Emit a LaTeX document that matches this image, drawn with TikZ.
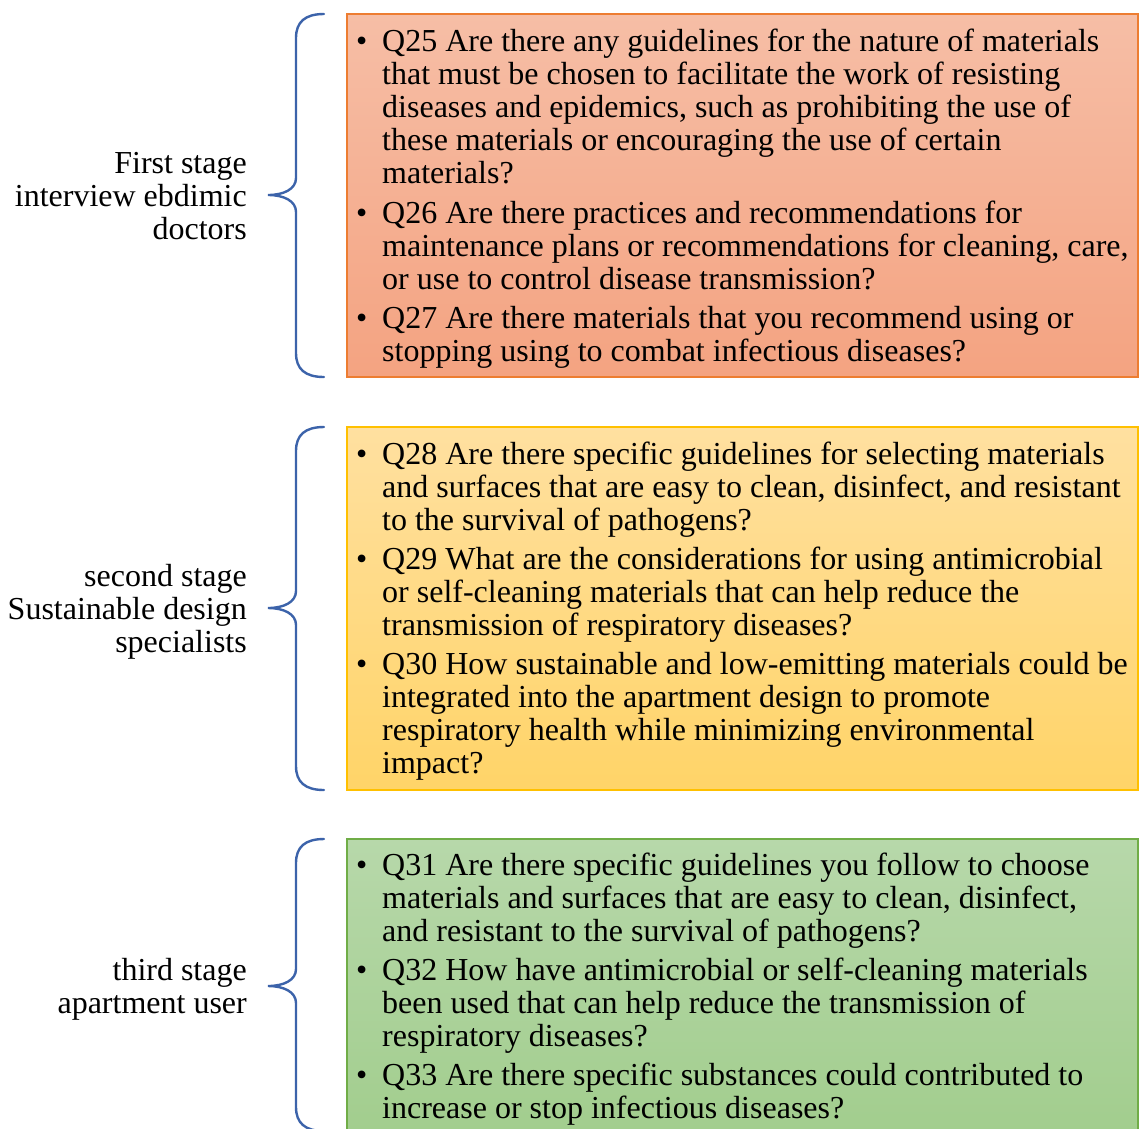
\documentclass[tikz,border=0pt]{standalone}
\usepackage{fontspec}
\setmainfont{Liberation Serif}
% multi-line text whose reference point is the first baseline
\newcommand{\linesL}[1]{\begin{tabular}[t]{@{}l@{}}#1\end{tabular}}
\newcommand{\linesR}[1]{\begin{tabular}[t]{@{}r@{}}#1\end{tabular}}
\begin{document}
\begin{tikzpicture}[x=1pt,y=-1pt,
  txt/.style={inner sep=0pt, anchor=base west,
    font=\fontsize{32}{33.2}\selectfont},
  bul/.style={inner sep=0pt, anchor=base west,
    font=\fontsize{32}{33.2}\selectfont},
  lbl/.style={inner sep=0pt, anchor=base east,
    font=\fontsize{32}{33}\selectfont},
  brace/.style={draw=braceblue, line width=2.4pt, line cap=round},
  qbox/.style={line width=1.3pt}]
\definecolor{braceblue}{RGB}{60,99,170}
\definecolor{oA}{RGB}{246,190,166}\definecolor{oB}{RGB}{244,163,129}\definecolor{oL}{RGB}{237,125,49}
\definecolor{yA}{RGB}{255,224,160}\definecolor{yB}{RGB}{255,212,104}\definecolor{yL}{RGB}{255,192,0}
\definecolor{gA}{RGB}{183,216,170}\definecolor{gB}{RGB}{157,203,135}\definecolor{gL}{RGB}{112,173,71}
\useasboundingbox (0,0) rectangle (1139,1128);
\clip (0,0) rectangle (1139,1128);

% question boxes
\draw[qbox, draw=oL, top color=oA, bottom color=oB] (347,14) rectangle (1138,377);
\draw[qbox, draw=yL, top color=yA, bottom color=yB] (347,427) rectangle (1138,790);
\draw[qbox, draw=gL, top color=gA, bottom color=gB] (347,839) rectangle (1138,1202);

% braces
\newcommand{\stagebrace}[3]{%
  \draw[brace] (324,#1) .. controls (305,#1) and (296,#1+8) .. (296,#1+24)
    -- (296,#2-17) .. controls (296,#2-6) and (284,#2) .. (268,#2)
    .. controls (284,#2) and (296,#2+6) .. (296,#2+17)
    -- (296,#3-24) .. controls (296,#3-8) and (305,#3) .. (324,#3);}
\stagebrace{14}{195}{377}
\stagebrace{427}{608}{790}
\stagebrace{839}{986}{1131}

% stage labels
\node[lbl] (s1) at (247,173) {\linesR{First stage\\interview ebdimic\\doctors}};
\node[lbl] (s2) at (247,586) {\linesR{second stage\\Sustainable design\\specialists}};
\node[lbl] (s3) at (247,980) {\linesR{third stage\\apartment user}};

% first stage questions
\node[bul] (b25) at (356,51) {•};
\node[txt] (q25) at (382,51) {\linesL{Q25 Are there any guidelines for the nature of materials\\that must be chosen to facilitate the work of resisting\\diseases and epidemics, such as prohibiting the use of\\these materials or encouraging the use of certain\\materials?}};
\node[bul] (b26) at (356,223) {•};
\node[txt] (q26) at (382,223) {\linesL{Q26 Are there practices and recommendations for\\maintenance plans or recommendations for cleaning, care,\\or use to control disease transmission?}};
\node[bul] (b27) at (356,328) {•};
\node[txt] (q27) at (382,328) {\linesL{Q27 Are there materials that you recommend using or\\stopping using to combat infectious diseases?}};

% second stage questions
\node[bul] (b28) at (356,464) {•};
\node[txt] (q28) at (382,464) {\linesL{Q28 Are there specific guidelines for selecting materials\\and surfaces that are easy to clean, disinfect, and resistant\\to the survival of pathogens?}};
\node[bul] (b29) at (356,569) {•};
\node[txt] (q29) at (382,569) {\linesL{Q29 What are the considerations for using antimicrobial\\or self-cleaning materials that can help reduce the\\transmission of respiratory diseases?}};
\node[bul] (b30) at (356,674) {•};
\node[txt] (q30) at (382,674) {\linesL{Q30 How sustainable and low-emitting materials could be\\integrated into the apartment design to promote\\respiratory health while minimizing environmental\\impact?}};

% third stage questions
\node[bul] (b31) at (356,875) {•};
\node[txt] (q31) at (382,875) {\linesL{Q31 Are there specific guidelines you follow to choose\\materials and surfaces that are easy to clean, disinfect,\\and resistant to the survival of pathogens?}};
\node[bul] (b32) at (356,980) {•};
\node[txt] (q32) at (382,980) {\linesL{Q32 How have antimicrobial or self-cleaning materials\\been used that can help reduce the transmission of\\respiratory diseases?}};
\node[bul] (b33) at (356,1085) {•};
\node[txt] (q33) at (382,1085) {\linesL{Q33 Are there specific substances could contributed to\\increase or stop infectious diseases?}};
\end{tikzpicture}
\end{document}
